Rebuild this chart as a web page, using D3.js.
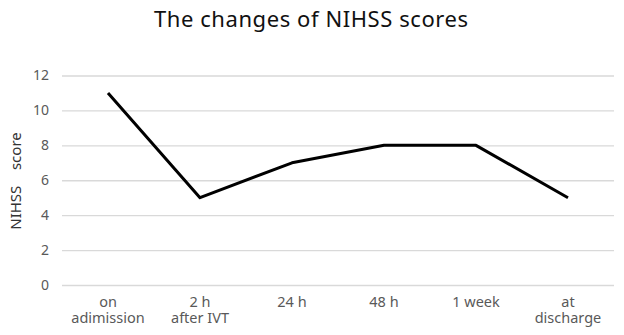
<!DOCTYPE html>
<html><head><meta charset="utf-8">
<script src="https://cdn.jsdelivr.net/npm/d3@7"></script>
<style>body{margin:0;background:#fff}svg{display:block}</style>
</head><body>
<svg id="c" width="624" height="335"></svg>
<script>
const categories = [["on","adimission"],["2 h","after IVT"],["24 h"],["48 h"],["1 week"],["at","discharge"]];
const values = [11, 5, 7, 8, 8, 5];
const yTicks = [0, 2, 4, 6, 8, 10, 12];
const title = "The changes of NIHSS scores";
const yLabel = "NIHSS\u00a0\u00a0\u00a0\u00a0score";

const svg = d3.select("#c");
const font = "'Noto Sans', 'Liberation Sans', sans-serif";
const m = {left: 62, right: 10, top: 75.5, bottom: 50};
const W = 624, H = 335;
const x = d3.scaleBand().domain(d3.range(categories.length)).range([m.left, W - m.right]);
const y = d3.scaleLinear().domain([0, 12]).range([285, 75.5]);

svg.append("text").attr("x", 311).attr("y", 27).attr("text-anchor", "middle")
  .attr("font-family", font).attr("font-size", 22).attr("fill", "#111")
  .attr("textLength", 314).text(title);

const yAxis = svg.append("g").attr("transform", `translate(${m.left},0)`)
  .call(d3.axisLeft(y).tickValues(yTicks).tickSize(-(W - m.right - m.left)).tickPadding(6));
yAxis.select(".domain").remove();
yAxis.selectAll(".tick line").attr("stroke", "#d9d9d9").attr("stroke-width", 1.3);
yAxis.selectAll(".tick text").attr("font-family", font).attr("font-size", 14).attr("fill", "#595959").attr("x", -13);

const xg = svg.append("g");
categories.forEach((c, i) => {
  c.forEach((line, j) => xg.append("text")
    .attr("x", x(i) + x.bandwidth()/2).attr("y", 307 + j*16)
    .attr("text-anchor", "middle").attr("font-family", font).attr("font-size", 14.5)
    .attr("fill", "#595959").text(line));
});

svg.append("text").attr("transform", "translate(21,181) rotate(-90)").attr("text-anchor", "middle")
  .attr("font-family", font).attr("font-size", 15).attr("fill", "#333").text(yLabel);

const line = d3.line().x((d, i) => x(i) + x.bandwidth()/2).y(d => y(d));
svg.append("path").datum(values).attr("d", line).attr("fill", "none")
  .attr("stroke", "#000").attr("stroke-width", 3).attr("stroke-linejoin", "round");
</script>
</body></html>
